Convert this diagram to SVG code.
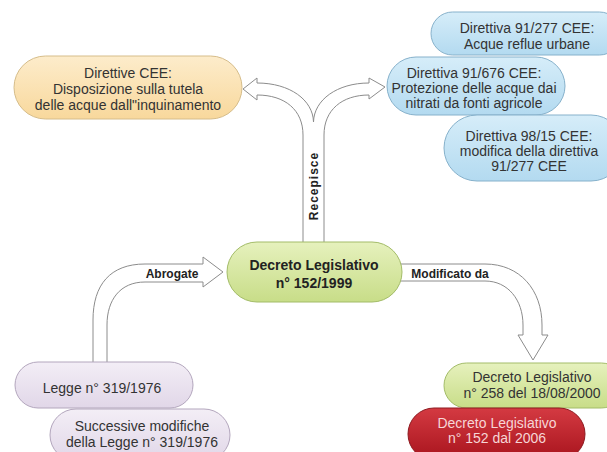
<svg xmlns="http://www.w3.org/2000/svg" width="607" height="452" viewBox="0 0 607 452">
<defs>
<linearGradient id="gO" x1="0" y1="0" x2="0" y2="1"><stop offset="0" stop-color="#fdeccb"/><stop offset="1" stop-color="#f8d89c"/></linearGradient>
<linearGradient id="gB" x1="0" y1="0" x2="0" y2="1"><stop offset="0" stop-color="#d6edf9"/><stop offset="1" stop-color="#b3daf0"/></linearGradient>
<linearGradient id="gG" x1="0" y1="0" x2="0" y2="1"><stop offset="0" stop-color="#e6f1bd"/><stop offset="1" stop-color="#c8dd88"/></linearGradient>
<linearGradient id="gP" x1="0" y1="0" x2="0" y2="1"><stop offset="0" stop-color="#f3eef6"/><stop offset="1" stop-color="#e1d7e8"/></linearGradient>
<linearGradient id="gR" x1="0" y1="0" x2="0" y2="1"><stop offset="0" stop-color="#d43a42"/><stop offset="1" stop-color="#a8141d"/></linearGradient>
</defs>
<style>
.t{font-family:"Liberation Sans",Arial,sans-serif;font-size:14px;fill:#333;text-anchor:middle}
.b{font-family:"Liberation Sans",Arial,sans-serif;font-weight:bold;fill:#222;text-anchor:middle}
.arr{fill:#fff;stroke:#8c8c8c;stroke-width:1}
.o{fill:url(#gO);stroke:#d6bd8a}
.bl{fill:url(#gB);stroke:#86b1cb}
.g{fill:url(#gG);stroke:#a3bc68}
.p{fill:url(#gP);stroke:#b3a6bd}
.r{fill:url(#gR);stroke:#8e1a20}
</style>
<rect width="607" height="452" fill="#fff"/>
<g id="connectors">
<path class="arr" d="M303,246 L303,135 C303,110 285,95 257,95 L257,100 L243,89 L257,78 L257,83 C290,83 313,100 313.5,122 C314,100 337,83 369,83 L369,78 L385,87 L369,99 L369,95 C342,95 324,110 324,135 L324,246"/>
<text class="b" font-size="12" letter-spacing="1" transform="translate(318,186) rotate(-90)">Recepisce</text>
<path class="arr" d="M93,366 L93,320 C93,285 110,264 145,264 L203,264 L203,257 L223,272 L203,287 L203,282 L145,282 C120,282 107,300 107,325 L107,366"/>
<text class="b" font-size="12" x="172" y="278">Abrogate</text>
<path class="arr" d="M396,264 L485,264 C520,264 542,290 542,325 L542,335 L548,335 L533,360 L518,335 L523,335 L523,325 C523,300 508,281 485,281 L396,281"/>
<text class="b" font-size="12" x="450" y="278">Modificato da</text>
</g>
<g id="n-direttive-cee">
<rect class="o" x="14" y="56" width="228" height="63" rx="31.5"/>
<text class="t" x="128" y="78">Direttive CEE:</text>
<text class="t" x="128" y="94">Disposizione  sulla tutela</text>
<text class="t" x="128" y="110">delle acque dall"inquinamento</text>
</g>
<g id="n-91-277">
<rect class="bl" x="431" y="12" width="190" height="43" rx="21.5"/>
<text class="t" x="527" y="33">Direttiva 91/277 CEE:</text>
<text class="t" x="527" y="49">Acque reflue urbane</text>
</g>
<g id="n-91-676">
<rect class="bl" x="387" y="57" width="178" height="58" rx="29"/>
<text class="t" x="474" y="78">Direttiva 91/676 CEE:</text>
<text class="t" x="474" y="93">Protezione delle acque dai</text>
<text class="t" x="474" y="108">nitrati da fonti agricole</text>
</g>
<g id="n-98-15">
<rect class="bl" x="444" y="115" width="180" height="66" rx="33"/>
<text class="t" x="529" y="141">Direttiva 98/15 CEE:</text>
<text class="t" x="529" y="156">modifica della direttiva</text>
<text class="t" x="529" y="171">91/277 CEE</text>
</g>
<g id="n-dlgs-152-1999">
<rect class="g" x="227" y="242" width="175" height="60" rx="30"/>
<text class="b" font-size="14" x="314" y="270">Decreto Legislativo</text>
<text class="b" font-size="14" x="314" y="288">n° 152/1999</text>
</g>
<g id="n-legge-319">
<rect class="p" x="15" y="362" width="178" height="46" rx="23"/>
<text class="t" x="102" y="393">Legge n° 319/1976</text>
</g>
<g id="n-modifiche-319">
<rect class="p" x="50" y="409" width="180" height="52" rx="26"/>
<text class="t" x="142" y="431">Successive modifiche</text>
<text class="t" x="142" y="447">della Legge n° 319/1976</text>
</g>
<g id="n-dlgs-258">
<rect class="g" x="444" y="363" width="180" height="45" rx="22.5"/>
<text class="t" x="532" y="382">Decreto Legislativo</text>
<text class="t" x="532" y="398">n° 258 del 18/08/2000</text>
</g>
<g id="n-dlgs-152-2006">
<rect class="r" x="408" y="408" width="177" height="52" rx="26"/>
<text class="t" x="497" y="428" style="fill:#f6d6d6">Decreto Legislativo</text>
<text class="t" x="497" y="443" style="fill:#f6d6d6">n° 152 dal 2006</text>
</g>
</svg>
